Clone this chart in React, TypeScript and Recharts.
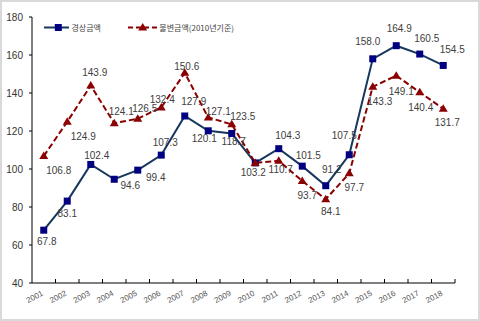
import React from 'react';
import { LineChart, Line, XAxis, YAxis, LabelList, Legend } from 'recharts';

const years = ['2001', '2002', '2003', '2004', '2005', '2006', '2007', '2008', '2009', '2010', '2011', '2012', '2013', '2014', '2015', '2016', '2017', '2018'];
const nominal = [67.8, 83.1, 102.4, 94.6, 99.4, 107.3, 127.9, 120.1, 118.7, 103.2, 110.7, 101.5, 91.2, 107.5, 158.0, 164.9, 160.5, 154.5];
const real = [106.8, 124.9, 143.9, 124.1, 126.5, 132.4, 150.6, 127.1, 123.5, 103.2, 104.3, 93.7, 84.1, 97.7, 143.3, 149.1, 140.4, 131.7];
const nominalLabels = ['67.8', '83.1', '102.4', '94.6', '99.4', '107.3', '127.9', '120.1', '118.7', '103.2', '104.3', '101.5', '91.2', '107.5', '158.0', '164.9', '160.5', '154.5'];
const realLabels = ['106.8', '124.9', '143.9', '124.1', '126.5', '132.4', '150.6', '127.1', '123.5', '', '110.7', '93.7', '84.1', '97.7', '143.3', '149.1', '140.4', '131.7'];
const yTicks = [40, 60, 80, 100, 120, 140, 160, 180];
const seriesNames = ['경상금액', '불변금액(2010년기준)'];

const data = years.map((y, i) => ({ year: y, nominal: nominal[i], real: real[i] }));

// label placement offsets (style)
const blueOffsets = [[3, 11], [0, 12.5], [6, -9], [16, 6], [18, 7], [4, -13], [9, -14], [-4, 8], [2, 8], [-2, 10], [9, -13.5], [6, -11], [6, -16], [-5, -19], [-5, -17], [3, -17.5], [7, -16], [9, -15.5]];
const redOffsets = [[15, 14], [16, 15], [4, -13], [7, -11.5], [7, -10], [1, -7.5], [2, -6], [10, -6.5], [11, -7.5], [0, 0], [2, 9], [5, 15], [5, 12], [5, 14], [7, 15], [5, 15.7], [1, 15.5], [4, 13.7]];

const BLUE_LINE = '#17375E';
const BLUE_MARK = '#000080';
const RED = '#8B0000';
const LABEL = '#404040';
const NUM_FONT = '"Liberation Sans", Arial, sans-serif';
const KR_FONT = '"Noto Sans CJK KR", sans-serif';

const Square = (props: any) => {
  const { cx, cy, index } = props;
  if (cx == null || cy == null) return <g key={`s${index}`} />;
  return <rect key={`s${index}`} x={cx - 3.5} y={cy - 3.5} width={7} height={7} fill={BLUE_MARK} />;
};

const Triangle = (props: any) => {
  const { cx, cy, index } = props;
  if (cx == null || cy == null) return <g key={`t${index}`} />;
  return (
    <polygon
      key={`t${index}`}
      points={`${cx},${cy - 4.5} ${cx + 4.5},${cy + 3} ${cx - 4.5},${cy + 3}`}
      fill={RED}
    />
  );
};

const makeLabel = (texts: string[], offsets: number[][]) => (props: any) => {
  const { x, y, index } = props;
  const t = texts[index];
  if (!t) return null;
  const [dx, dy] = offsets[index];
  return (
    <text
      key={`l${index}`}
      x={x + dx}
      y={y + dy}
      textAnchor="middle"
      dominantBaseline="central"
      fontSize={10}
      fontFamily={NUM_FONT}
      fill={LABEL}
    >
      {t}
    </text>
  );
};

const XTick = (props: any) => {
  const { x, y, payload } = props;
  return (
    <g>
      <line x1={x + 11.75} x2={x + 11.75} y1={y - 4} y2={y} stroke="#000" strokeWidth={1} />
      <text
        x={0}
        y={0}
        transform={`translate(${x},${y + 12}) rotate(-28)`}
        textAnchor="end"
        fontSize={8}
        fontFamily={NUM_FONT}
        fill="#555"
      >
        {payload.value}
      </text>
    </g>
  );
};

const renderLegend = () => (
  <svg width={240} height={16} style={{ display: 'block' }}>
    <line x1={4} x2={29} y1={7.5} y2={7.5} stroke={BLUE_LINE} strokeWidth={2} />
    <rect x={14.8} y={4} width={7} height={7} fill={BLUE_MARK} />
    <text x={31.5} y={7.5} dominantBaseline="central" fontSize={8} fontFamily={KR_FONT} fill="#444">
      {seriesNames[0]}
    </text>
    <line x1={88} x2={117} y1={7.5} y2={7.5} stroke={RED} strokeWidth={2} strokeDasharray="5 3" />
    <polygon points="102.7,3 107.2,10.5 98.2,10.5" fill={RED} />
    <text x={119.3} y={7.5} dominantBaseline="central" fontSize={8} fontFamily={KR_FONT} fill="#444">
      {seriesNames[1]}
    </text>
  </svg>
);

export default function App() {
  return (
    <div style={{ position: 'absolute', left: 0, top: 0, width: 480, height: 321, background: '#d9d9d9' }}>
      <div style={{ position: 'absolute', left: 2, top: 2, width: 476, height: 317, background: '#fff' }} />
      <div style={{ position: 'absolute', left: 0, top: 0 }}>
        <LineChart width={480} height={321} data={data} margin={{ top: 17, right: 25, bottom: 8, left: 0 }}>
          <XAxis
            dataKey="year"
            scale="point"
            padding={{ left: 11.75, right: 11.75 }}
            height={30}
            tickLine={false}
            tickSize={0}
            tickMargin={0}
            interval={0}
            axisLine={{ stroke: '#000', strokeWidth: 1 }}
            tick={<XTick />}
          />
          <YAxis
            width={32}
            domain={[40, 180]}
            ticks={yTicks}
            type="number"
            interval={0}
            tickSize={3}
            tickMargin={6}
            axisLine={{ stroke: '#000', strokeWidth: 1 }}
            tickLine={{ stroke: '#000' }}
            tick={{ fontSize: 10, fill: '#333', fontFamily: NUM_FONT }}
          />
          <Legend
            layout="horizontal"
            verticalAlign="middle"
            align="center"
            content={renderLegend}
            wrapperStyle={{ position: 'absolute', left: 40, top: 20, width: 240, height: 16 }}
          />
          <Line
            type="linear"
            dataKey="nominal"
            name={seriesNames[0]}
            stroke={BLUE_LINE}
            strokeWidth={2}
            dot={Square}
            activeDot={false}
            isAnimationActive={false}
          >
            <LabelList dataKey="nominal" content={makeLabel(nominalLabels, blueOffsets)} />
          </Line>
          <Line
            type="linear"
            dataKey="real"
            name={seriesNames[1]}
            stroke={RED}
            strokeWidth={2}
            strokeDasharray="6 3"
            dot={Triangle}
            activeDot={false}
            isAnimationActive={false}
          >
            <LabelList dataKey="real" content={makeLabel(realLabels, redOffsets)} />
          </Line>
        </LineChart>
      </div>
    </div>
  );
}
